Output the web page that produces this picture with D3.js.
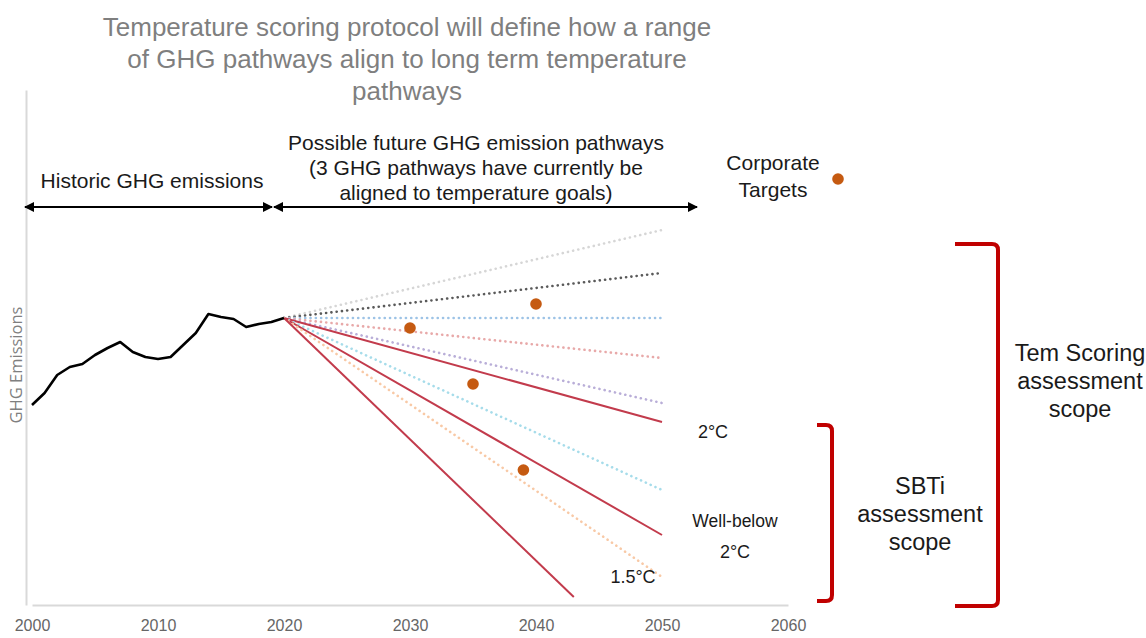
<!DOCTYPE html>
<html>
<head>
<meta charset="utf-8">
<script src="https://cdn.jsdelivr.net/npm/d3@7"></script>
<style>
  body { margin: 0; background: #fff; }
  svg { display: block; font-family: "Liberation Sans", Arial, sans-serif; }
</style>
</head>
<body>
<div id="chart"></div>
<script>
// historic emissions
const histYears = d3.range(2000, 2021);
const histValues = [40, 42.4, 46, 47.6, 48.2, 50, 51.4, 52.6, 50.6, 49.6, 49.2,
  49.6, 52, 54.4, 58.2, 57.6, 57.2, 55.6, 56.2, 56.6, 57.4];

// future pathways (start at 2020 value)
const pathNames = ["high", "mid-high", "flat", "mild", "moderate", "2C", "strong", "wb2C", "steep", "1.5C"];
const pathEndYears = [2050, 2050, 2050, 2050, 2050, 2050, 2050, 2050, 2050, 2043];
const pathEndValues = [75, 66.4, 57.4, 49.4, 40.4, 36.6, 23, 14, 5.6, 1.6];
const pathKinds = ["dot", "dot", "dot", "dot", "dot", "solid", "dot", "solid", "dot", "solid"];

// corporate targets
const targetYears = [2030, 2040, 2035, 2039];
const targetValues = [55.4, 60.2, 44.2, 27];

const xTicks = [2000, 2010, 2020, 2030, 2040, 2050, 2060];

const pathColors = ["#d6d6d6", "#5a5a5a", "#9dc3e6", "#e8a9a9", "#b9aed8", "#c23b4c",
  "#a6dcea", "#c23b4c", "#f8c9a6", "#c23b4c"];

const W = 1146, H = 638;
const svg = d3.select("#chart").append("svg").attr("width", W).attr("height", H);

const x = d3.scaleLinear().domain([2000, 2060]).range([32, 788]);
const y = d3.scaleLinear().domain([0, 103]).range([605, 90]);

// title
const title = ["Temperature scoring protocol will define how a range",
  "of GHG pathways align to long term temperature", "pathways"];
svg.append("g").selectAll("text").data(title).join("text")
  .attr("x", 407).attr("y", (d, i) => 36 + i * 32)
  .attr("text-anchor", "middle").attr("font-size", 26).attr("fill", "#7f7f7f")
  .text(d => d);

// axes
svg.append("g")
  .attr("transform", `translate(0,${y(0)})`)
  .call(d3.axisBottom(x).tickValues(xTicks).tickFormat(d3.format("d")).tickSize(0).tickPadding(15))
  .call(g => g.select(".domain").attr("stroke", "#d9d9d9").attr("stroke-width", 2))
  .call(g => g.selectAll("text").attr("font-size", 16).attr("fill", "#666")
    .attr("font-family", "'Liberation Sans',Arial,sans-serif"));

svg.append("g")
  .attr("transform", `translate(26,0)`)
  .call(d3.axisLeft(y).tickValues([]).tickSizeOuter(0))
  .call(g => g.select(".domain").attr("stroke", "#d9d9d9").attr("stroke-width", 2));

svg.append("text")
  .attr("transform", `translate(22,${y(48)}) rotate(-90)`)
  .attr("text-anchor", "middle").attr("font-size", 16.5).attr("fill", "#7f7f7f")
  .attr("font-family", "'Open Sans','Liberation Sans',sans-serif")
  .text("GHG Emissions");

// pathways
const startVal = histValues[histValues.length - 1];
const line = d3.line().x(d => x(d[0])).y(d => y(d[1]));
const pathData = pathNames.map((n, i) => ({
  name: n, kind: pathKinds[i], color: pathColors[i],
  pts: [[2020, startVal], [pathEndYears[i], pathEndValues[i]]]
}));

svg.append("g").selectAll("path").data(pathData).join("path")
  .attr("d", d => line(d.pts))
  .attr("fill", "none")
  .attr("stroke", d => d.color)
  .attr("stroke-width", d => d.kind === "solid" ? 2 : 2.6)
  .attr("stroke-linecap", d => d.kind === "solid" ? "butt" : "round")
  .attr("stroke-dasharray", d => d.kind === "solid" ? null : "0.1,5.2");

// historic
svg.append("path")
  .attr("d", line(histYears.map((yr, i) => [yr, histValues[i]])))
  .attr("fill", "none").attr("stroke", "#000").attr("stroke-width", 2.6)
  .attr("stroke-linejoin", "round");

// target dots
svg.append("g").selectAll("circle").data(targetYears).join("circle")
  .attr("cx", d => x(d)).attr("cy", (d, i) => y(targetValues[i]))
  .attr("r", 5.8).attr("fill", "#c55a11");

// arrows
svg.append("defs").append("marker").attr("id", "arr")
  .attr("viewBox", "0 0 10 10").attr("refX", 9).attr("refY", 5)
  .attr("markerWidth", 5).attr("markerHeight", 5).attr("orient", "auto-start-reverse")
  .append("path").attr("d", "M0,0 L10,5 L0,10 z").attr("fill", "#000");
const arrows = [[25, 272], [274, 697]];
svg.append("g").selectAll("line").data(arrows).join("line")
  .attr("x1", d => d[0]).attr("x2", d => d[1]).attr("y1", 207).attr("y2", 207)
  .attr("stroke", "#000").attr("stroke-width", 2)
  .attr("marker-start", "url(#arr)").attr("marker-end", "url(#arr)");

const txt = (xx, yy, s, size, fill, anchor) => svg.append("text")
  .attr("x", xx).attr("y", yy).attr("font-size", size).attr("fill", fill || "#1a1a1a")
  .attr("text-anchor", anchor || "middle").text(s);

txt(152, 188, "Historic GHG emissions", 21);
txt(476, 150, "Possible future GHG emission pathways", 21);
txt(476, 175, "(3 GHG pathways have currently be", 21);
txt(476, 200, "aligned to temperature goals)", 21);
txt(773, 170, "Corporate", 21);
txt(773, 197, "Targets", 21);
svg.append("circle").attr("cx", 838).attr("cy", 179).attr("r", 5.8).attr("fill", "#c55a11");

txt(713, 438, "2°C", 18);
txt(735, 527, "Well-below", 17.5);
txt(735, 558, "2°C", 18);
txt(633, 583, "1.5°C", 18);

// brackets
const bracket = (x0, x1, y0, y1) => {
  const r = 6;
  return `M${x0},${y0} L${x1 - r},${y0} Q${x1},${y0} ${x1},${y0 + r} L${x1},${y1 - r} Q${x1},${y1} ${x1 - r},${y1} L${x0},${y1}`;
};
svg.append("path").attr("d", bracket(955, 998, 244, 606))
  .attr("fill", "none").attr("stroke", "#c00000").attr("stroke-width", 4);
svg.append("path").attr("d", bracket(817, 832, 425, 601))
  .attr("fill", "none").attr("stroke", "#c00000").attr("stroke-width", 4);

txt(1080, 361, "Tem Scoring", 23.5);
txt(1080, 389, "assessment", 23.5);
txt(1080, 417, "scope", 23.5);
txt(920, 494, "SBTi", 23.5);
txt(920, 522, "assessment", 23.5);
txt(920, 550, "scope", 23.5);
</script>
</body>
</html>
